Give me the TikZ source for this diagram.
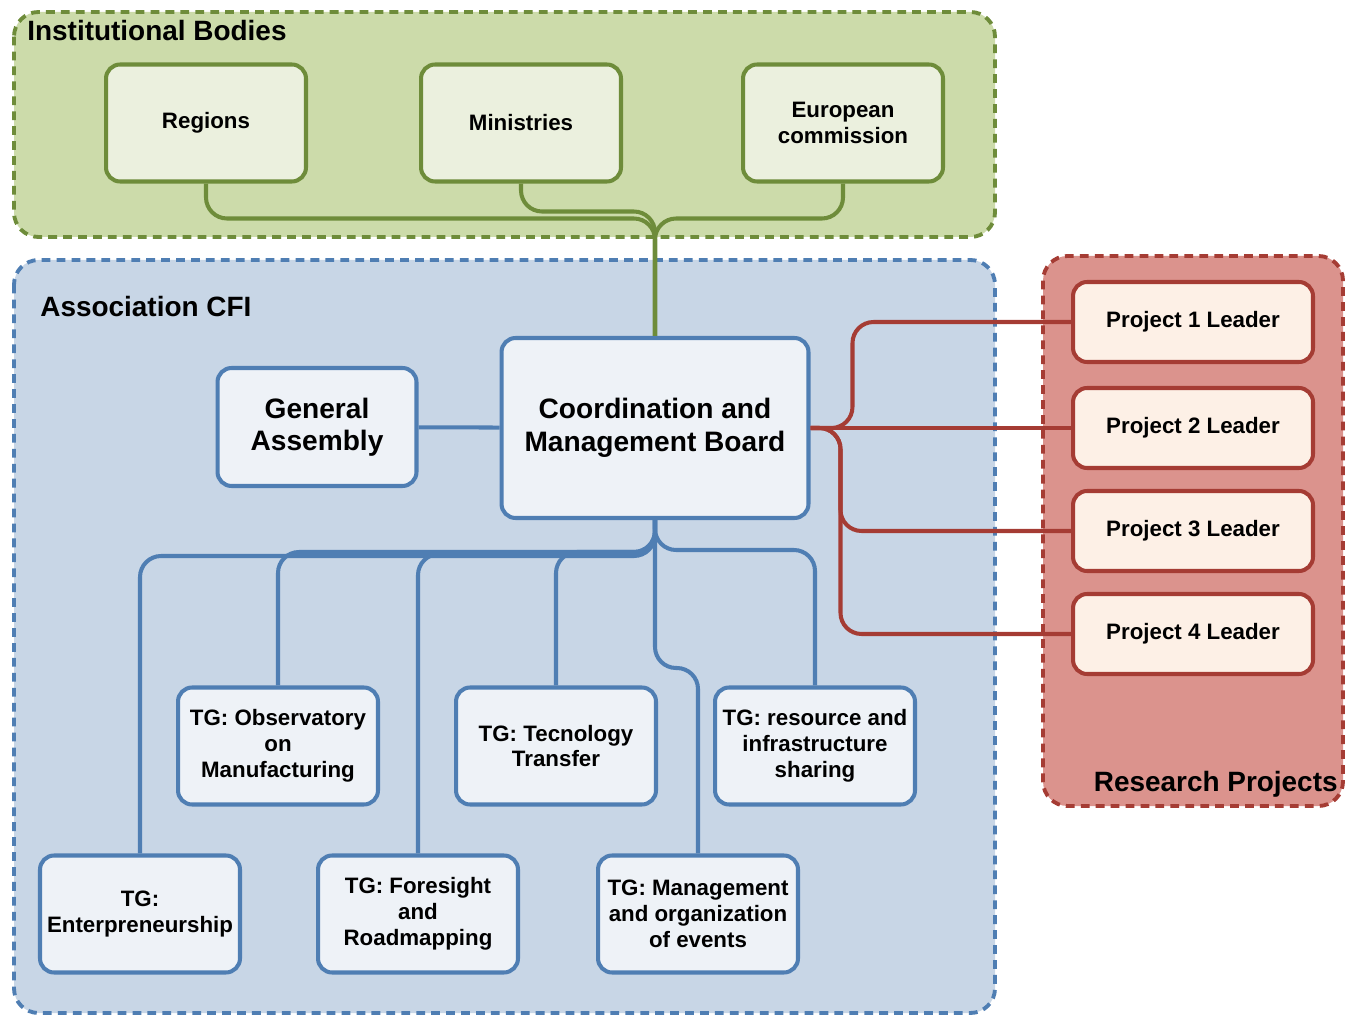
\documentclass[tikz,border=0pt]{standalone}
\usepackage{fontspec}
\setmainfont{Liberation Sans}
\definecolor{grnfill}{HTML}{CCDBAA}
\definecolor{grndraw}{HTML}{6E8C3A}
\definecolor{grnbox}{HTML}{EBF0DE}
\definecolor{blufill}{HTML}{C8D6E6}
\definecolor{bludraw}{HTML}{4F7EB3}
\definecolor{blubox}{HTML}{EEF2F7}
\definecolor{redfill}{HTML}{DB938D}
\definecolor{reddraw}{HTML}{A53C34}
\definecolor{redbox}{HTML}{FDF0E6}
\begin{document}
\begin{tikzpicture}[
	x=0.02cm, y=-0.02cm,
	area/.style={
		rounded corners=14pt,
		line width=2.2pt, dash pattern=on 5pt off 3.5pt
	},
	block/.style={
		rectangle, rounded corners=8pt,
		line width=2.3pt, inner sep=2pt,
		minimum width=4cm, minimum height=2.34cm,
		align=center, font=\bfseries\fontsize{12.7}{14.7}\selectfont
	},
	big/.style={
		block, font=\bfseries\fontsize{16}{18.5}\selectfont
	},
	inst/.style={block, draw=grndraw, fill=grnbox},
	assoc/.style={block, draw=bludraw, fill=blubox},
	proj/.style={block, draw=reddraw, fill=redbox, minimum width=4.8cm, minimum height=1.6cm},
	title/.style={font=\bfseries\fontsize{15.9}{18}\selectfont, inner sep=0pt},
	link/.style={draw, line width=2.3pt, rounded corners=12pt},
	]
	\useasboundingbox (0,0) rectangle (1345,1016);

	\draw[area, draw=grndraw, fill=grnfill] (14,12) rectangle (995,237);
	\draw[area, draw=bludraw, fill=blufill] (14,260) rectangle (995,1013);
	\draw[area, draw=reddraw, fill=redfill] (1043,256) rectangle (1343,806);

	\node [title, anchor=west] (tinst) at (27,31) {Institutional Bodies};
	\node [title, anchor=west] (tassoc) at (40,307) {Association CFI};
	\node [title, anchor=east] (tproj) at (1338,784) {Research Projects};

	\node [inst] (reg) at (206,123) {Regions};
	\node [inst] (min) at (521,123) {Ministries};
	\node [inst] (ec) at (843,123) {European\\commission};

	\node [assoc, big, minimum width=6.14cm, minimum height=3.6cm] (cmb) at (655,428) {Coordination and\\Management Board};
	\node [assoc, big, minimum width=3.98cm, minimum height=2.36cm] (ga) at (317,427) {General\\Assembly};

	\node [assoc] (obs) at (278,746) {TG: Observatory\\on\\Manufacturing};
	\node [assoc] (tt) at (556,746) {TG: Tecnology\\Transfer};
	\node [assoc] (res) at (815,746) {TG: resource and\\infrastructure\\sharing};
	\node [assoc] (ent) at (140,914) {TG:\\Enterpreneurship};
	\node [assoc] (fore) at (418,914) {TG: Foresight\\and\\Roadmapping};
	\node [assoc] (mgt) at (698,914) {TG: Management\\and organization\\of events};

	\node [proj] (p1) at (1193,322) {Project 1 Leader};
	\node [proj] (p2) at (1193,428) {Project 2 Leader};
	\node [proj] (p3) at (1193,531) {Project 3 Leader};
	\node [proj] (p4) at (1193,634) {Project 4 Leader};

	\path [link, draw=grndraw] (reg.south) -- ++(0,35) -| (cmb.north);
	\path [link, draw=grndraw] (min.south) -- ++(0,28) -| (cmb.north);
	\path [link, draw=grndraw] (ec.south) -- ++(0,35) -| (cmb.north);

	\path [link, draw=bludraw] (ga) -- (cmb);
	\path [link, draw=bludraw] (cmb.south) -- ++(0,36) -| (ent.north);
	\path [link, draw=bludraw] (cmb.south) -- ++(0,32) -| (obs.north);
	\path [link, draw=bludraw] (cmb.south) -- ++(0,34) -| (fore.north);
	\path [link, draw=bludraw] (cmb.south) -- ++(0,32) -| (tt.north);
	\path [link, draw=bludraw] (cmb.south) -- ++(0,148) -| (mgt.north);
	\path [link, draw=bludraw] (cmb.south) -- ++(0,30) -| (res.north);

	\path [link, draw=reddraw] (cmb.east) -- (p2.west);
	\path [link, draw=reddraw] (cmb.east) -- ++(42,0) |- (p1.west);
	\path [link, draw=reddraw] (cmb.east) -- ++(30,0) |- (p3.west);
	\path [link, draw=reddraw] (cmb.east) -- ++(30,0) |- (p4.west);
\end{tikzpicture}
\end{document}
